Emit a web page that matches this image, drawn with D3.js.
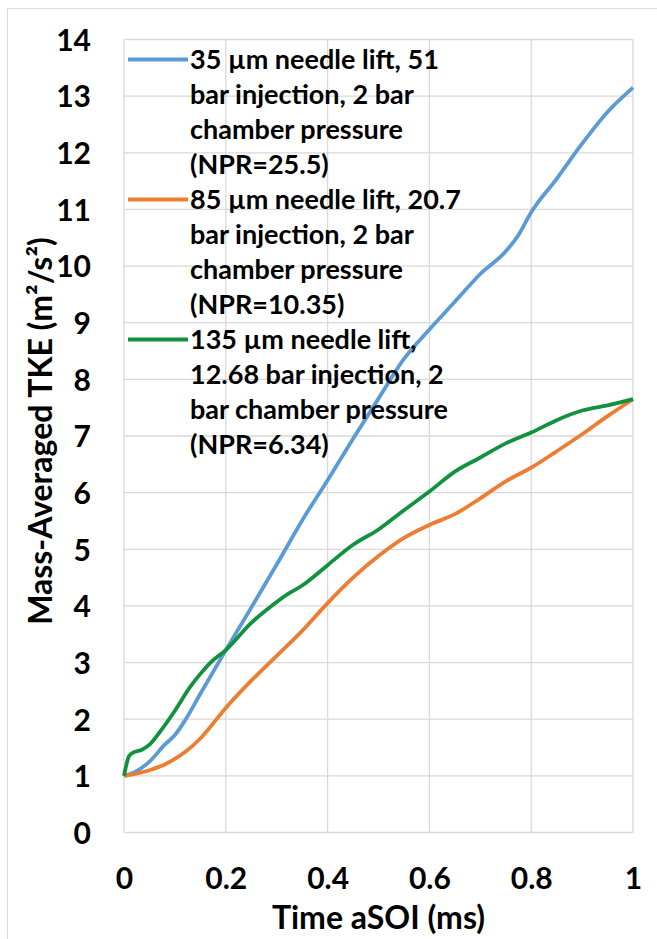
<!DOCTYPE html>
<html>
<head>
<meta charset="utf-8">
<script src="https://cdn.jsdelivr.net/npm/d3@7"></script>
<style>
  body { margin: 0; background: #fff; }
  text { font-family: Lato, "Open Sans", sans-serif; font-weight: bold; fill: #000; }
</style>
</head>
<body>
<div id="chart"></div>
<script>
var width = 657,
    height = 939;

// time after start of injection (ms)
var timeBlue = [0, 0.02, 0.05, 0.08, 0.1, 0.12, 0.15, 0.2, 0.25, 0.3, 0.35, 0.4, 0.45, 0.5, 0.55, 0.6, 0.65, 0.7, 0.75, 0.775, 0.8, 0.85, 0.9, 0.95, 1.0];
var tkeBlue  = [1.0, 1.06, 1.25, 1.55, 1.72, 1.98, 2.45, 3.22, 3.97, 4.73, 5.51, 6.22, 6.95, 7.66, 8.36, 8.88, 9.37, 9.86, 10.26, 10.55, 10.95, 11.54, 12.16, 12.72, 13.15];

var timeOrange = [0, 0.02, 0.05, 0.08, 0.1, 0.12, 0.15, 0.2, 0.25, 0.3, 0.35, 0.4, 0.45, 0.5, 0.55, 0.6, 0.65, 0.7, 0.75, 0.8, 0.85, 0.9, 0.95, 1.0];
var tkeOrange  = [1.0, 1.03, 1.1, 1.2, 1.3, 1.42, 1.66, 2.2, 2.68, 3.12, 3.56, 4.05, 4.5, 4.88, 5.2, 5.43, 5.62, 5.9, 6.2, 6.44, 6.73, 7.03, 7.35, 7.65];

var timeGreen = [0, 0.01, 0.02, 0.035, 0.05, 0.07, 0.1, 0.13, 0.15, 0.17, 0.2, 0.25, 0.3, 0.32, 0.35, 0.4, 0.45, 0.5, 0.55, 0.6, 0.65, 0.7, 0.75, 0.8, 0.85, 0.9, 0.95, 1.0];
var tkeGreen  = [1.0, 1.35, 1.42, 1.46, 1.55, 1.77, 2.15, 2.57, 2.8, 3.0, 3.22, 3.7, 4.07, 4.2, 4.36, 4.72, 5.08, 5.35, 5.69, 6.02, 6.37, 6.62, 6.87, 7.06, 7.28, 7.45, 7.54, 7.65];

var xTicks = [0, 0.2, 0.4, 0.6, 0.8, 1];
var yTicks = d3.range(0, 15);

var legendLabels = [
  ["35 µm needle lift, 51", "bar injection, 2 bar", "chamber pressure", "(NPR=25.5)"],
  ["85 µm needle lift, 20.7", "bar injection, 2 bar", "chamber pressure", "(NPR=10.35)"],
  ["135 µm needle lift,", "12.68 bar injection, 2", "bar chamber pressure", "(NPR=6.34)"]
];

var series = [
  { t: timeBlue, v: tkeBlue, color: "#5b9bd5" },
  { t: timeOrange, v: tkeOrange, color: "#ed7d31" },
  { t: timeGreen, v: tkeGreen, color: "#12913f" }
];

var margin = { left: 124, right: 24, top: 39.5, bottom: 106.5 };

var x = d3.scaleLinear()
    .domain([0, 1])
    .range([margin.left, width - margin.right]);

var y = d3.scaleLinear()
    .domain([0, 14])
    .range([height - margin.bottom, margin.top]);

var svg = d3.select("#chart").append("svg")
    .attr("width", width)
    .attr("height", height);

// outer chart frame
svg.append("rect")
    .attr("x", 7.5).attr("y", 8.5)
    .attr("width", 700).attr("height", 1000)
    .attr("fill", "none")
    .attr("stroke", "#d9d9d9");

// grid
var grid = svg.append("g");
grid.selectAll(".hgrid")
    .data(yTicks)
    .enter().append("line")
    .attr("x1", x(0)).attr("x2", x(1))
    .attr("y1", function(d) { return y(d); })
    .attr("y2", function(d) { return y(d); })
    .attr("stroke", "#d9d9d9")
    .attr("stroke-width", 1.3);

grid.selectAll(".vgrid")
    .data(xTicks)
    .enter().append("line")
    .attr("y1", y(0)).attr("y2", y(14))
    .attr("x1", function(d) { return x(d); })
    .attr("x2", function(d) { return x(d); })
    .attr("stroke", "#d9d9d9")
    .attr("stroke-width", 1.3);

// axes (labels only, Excel style)
var yAxis = svg.append("g")
    .attr("transform", "translate(" + (x(0) - 33) + ",0)")
    .call(d3.axisLeft(y).tickValues(yTicks).tickSize(0).tickPadding(0));
yAxis.select(".domain").remove();
yAxis.selectAll("text")
    .attr("font-size", 30)
    .attr("dy", "0.36em");

var xAxis = svg.append("g")
    .attr("transform", "translate(0," + y(0) + ")")
    .call(d3.axisBottom(x).tickValues(xTicks).tickFormat(d3.format("")).tickSize(0).tickPadding(0));
xAxis.select(".domain").remove();
xAxis.selectAll("text")
    .attr("font-size", 30)
    .attr("dy", null)
    .attr("y", 56);

svg.selectAll(".tick text").style("font-family", "Lato, 'Open Sans', sans-serif").style("font-weight", "bold").attr("fill", "#000");

// axis titles
svg.append("text")
    .attr("x", (x(0) + x(1)) / 2)
    .attr("y", 929)
    .attr("text-anchor", "middle")
    .attr("font-size", 32)
    .text("Time aSOI (ms)");

svg.append("text")
    .attr("transform", "translate(52," + ((y(0) + y(14)) / 2 - 5) + ")rotate(-90)")
    .attr("text-anchor", "middle")
    .attr("font-size", 32)
    .text("Mass-Averaged TKE (m²/s²)");

// lines
var line = d3.line()
    .x(function(d) { return x(d[0]); })
    .y(function(d) { return y(d[1]); })
    .curve(d3.curveMonotoneX);

series.forEach(function(s) {
  svg.append("path")
      .datum(d3.zip(s.t, s.v))
      .attr("d", line)
      .attr("fill", "none")
      .attr("stroke", s.color)
      .attr("stroke-width", 3.8)
      .attr("stroke-linejoin", "round");
});

// legend
var legend = svg.append("g");
series.forEach(function(s, i) {
  var top = 59.5 + i * 140;
  legend.append("line")
      .attr("x1", 128).attr("x2", 188)
      .attr("y1", top).attr("y2", top)
      .attr("stroke", s.color)
      .attr("stroke-width", 3.8);
  legendLabels[i].forEach(function(lbl, j) {
    legend.append("text")
        .attr("x", 190)
        .attr("y", top + 9 + j * 35)
        .attr("font-size", 27)
        .text(lbl);
  });
});
</script>
</body>
</html>
